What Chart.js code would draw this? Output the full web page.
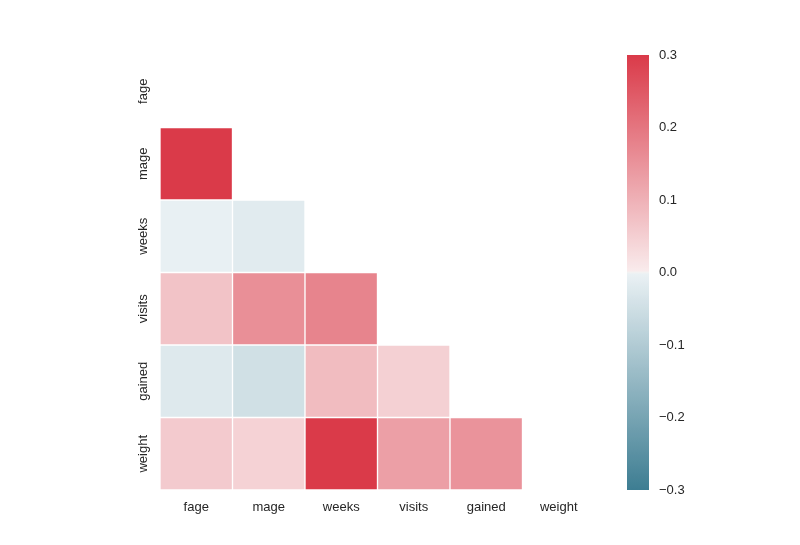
<!DOCTYPE html>
<html><head><meta charset="utf-8">
<script src="https://cdn.jsdelivr.net/npm/chart.js@4.4.1/dist/chart.umd.min.js"></script>
<style>
html,body{margin:0;padding:0;background:#fff;}
#wrap{position:relative;width:800px;height:545px;overflow:hidden;}
#main{position:absolute;left:0;top:0;}
#cbar{position:absolute;left:600px;top:0;}
</style></head><body>
<div id="wrap">
<canvas id="main" width="800" height="545"></canvas>
<canvas id="cbar" width="109" height="545"></canvas>
</div>
<script>
const variables = ['fage','mage','weeks','visits','gained','weight'];
// lower triangle correlations (row i, columns 0..i-1); values beyond ±0.3 are clipped in colour
const rowFage = [];
const rowMage = [0.30];
const rowWeeks = [-0.005, -0.017];
const rowVisits = [0.07, 0.157, 0.175];
const rowGained = [-0.023, -0.047, 0.082, 0.048];
const rowWeight = [0.058, 0.044, 0.30, 0.13, 0.15];
const rows = [rowFage, rowMage, rowWeeks, rowVisits, rowGained, rowWeight];
const vmin = -0.3, vmax = 0.3;
const cbarTicks = [-0.3, -0.2, -0.1, 0.0, 0.1, 0.2, 0.3];

// diverging palette (seaborn 220 -> 10, light centre)
const NEG = [61,125,146], GRAY_NEG = [234,241,244], MID = [242,242,242], GRAY_POS = [249,235,236], POS = [218,58,73];
function lerp(a,b,t){return a.map((v,i)=>v+(b[i]-v)*t);}
function entry(k){
  if (k <= 126) return lerp(NEG, GRAY_NEG, k/126);
  if (k === 127) return MID;
  return lerp(GRAY_POS, POS, (k-128)/126);
}
function cmap(v){
  let t = (v - vmin)/(vmax - vmin);
  t = Math.max(0, Math.min(1, t));
  const p = t*254, k = Math.min(253, Math.floor(p));
  const c = lerp(entry(k), entry(k+1), p-k);
  return 'rgb(' + c.map(x=>Math.round(x)).join(',') + ')';
}

const TXT = '#262626';
const FONT = {family: '"Liberation Sans", Arial, sans-serif', size: 13};

const datasets = rows.map((vals, i) => ({
  data: variables.map((_, j) => j < i ? [i, i+1] : null),
  backgroundColor: variables.map((_, j) => j < i ? cmap(vals[j]) : 'rgba(0,0,0,0)'),
  borderColor: '#ffffff',
  borderWidth: 1,
  borderSkipped: false,
  grouped: false,
  barPercentage: 1,
  categoryPercentage: 1
}));

const yLabelPlugin = {
  id: 'ylabels',
  afterDraw(chart){
    const ctx = chart.ctx, ys = chart.scales.y;
    ctx.save();
    ctx.fillStyle = TXT;
    ctx.font = FONT.size + 'px ' + FONT.family;
    ctx.textAlign = 'center';
    ctx.textBaseline = 'middle';
    variables.forEach((name, i) => {
      const y = ys.getPixelForValue(i + 0.5);
      ctx.save();
      ctx.translate(143, y);
      ctx.rotate(-Math.PI/2);
      ctx.fillText(name, 0, 0);
      ctx.restore();
    });
    ctx.restore();
  }
};

new Chart(document.getElementById('main'), {
  type: 'bar',
  data: {labels: variables, datasets},
  options: {
    responsive: false,
    animation: false,
    layout: {padding: {left: 160, right: 205, top: 55, bottom: 0}},
    plugins: {legend: {display: false}, tooltip: {enabled: false}},
    scales: {
      x: {
        type: 'category',
        grid: {display: false, drawTicks: false},
        border: {display: false},
        ticks: {color: TXT, font: FONT, padding: 10, maxRotation: 0, minRotation: 0},
        afterFit: s => { s.height = 55; }
      },
      y: {type: 'linear', min: 0, max: 6, reverse: true, display: false}
    }
  },
  plugins: [yLabelPlugin]
});

new Chart(document.getElementById('cbar'), {
  type: 'bar',
  data: {labels: ['c'], datasets: [{
    data: [[vmin, vmax]],
    borderWidth: 0,
    barPercentage: 1,
    categoryPercentage: 1,
    backgroundColor: (c) => {
      const ca = c.chart.chartArea;
      if (!ca) return POS;
      const ys = c.chart.scales.y;
      const y0 = ys.getPixelForValue(vmin), y1 = ys.getPixelForValue(vmax);
      const g = c.chart.ctx.createLinearGradient(0, y0, 0, y1);
      const N = 254;
      for (let i = 0; i <= N; i++) {
        const t = i / N;
        g.addColorStop(t, cmap(vmin + (vmax - vmin) * t));
      }
      return g;
    }
  }]},
  options: {
    responsive: false,
    animation: false,
    layout: {padding: {left: 27, right: 0, top: 55, bottom: 55}},
    plugins: {legend: {display: false}, tooltip: {enabled: false}},
    scales: {
      x: {display: false},
      y: {
        type: 'linear', position: 'right', min: vmin, max: vmax,
        grid: {display: false, drawTicks: false},
        border: {display: false},
        afterBuildTicks: s => { s.ticks = cbarTicks.map(v => ({value: v})); },
        ticks: {
          color: TXT, font: FONT, padding: 10,
          callback: v => (v < -1e-9 ? '\u2212' : '') + Math.abs(v).toFixed(1)
        },
        afterFit: s => { s.width = 60; }
      }
    }
  }
});
</script>
</body></html>
